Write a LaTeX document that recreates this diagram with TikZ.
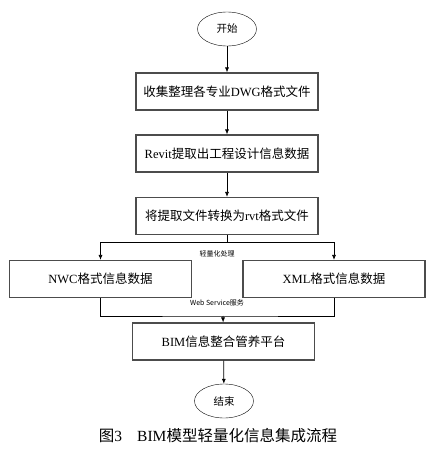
\documentclass[tikz,border=0pt]{standalone}
\usepackage{fontspec}
\setmainfont{Liberation Serif}
\newfontfamily\zh{Noto Sans CJK SC}
\usepackage{tikz}
\usetikzlibrary{arrows.meta,shapes.geometric}

\begin{document}
\begin{tikzpicture}[x=1pt, y=-1pt,
    stepbox/.style={draw=black!70, line width=1.1pt, minimum width=182pt, minimum height=37pt, inner sep=0pt, font=\fontsize{12.5}{14}\selectfont},
    termnode/.style={draw, ellipse, minimum width=59pt, minimum height=34pt, inner sep=0pt, font=\zh\fontsize{10.5}{12}\selectfont},
    note/.style={inner sep=0pt, font=\zh\fontsize{7}{8}\selectfont},
    flow/.style={-{Latex[length=5pt,width=4pt]}, line width=0.7pt}]
  \useasboundingbox (0,0) rectangle (437,452);
  % start and end
  \node[termnode] (start) at (227,29) {开始};
  \node[termnode] (stop) at (224,401) {结束};
  % main steps
  \node[stepbox] (collect) at (227,91.5) {{\zh 收集整理各专业}DWG{\zh 格式文件}};
  \node[stepbox] (revit) at (227,153.5) {Revit{\zh 提取出工程设计信息数据}};
  \node[stepbox] (convert) at (227,216) {{\zh 将提取文件转换为}rvt{\zh 格式文件}};
  \node[stepbox] (nwc) at (100.5,279) {NWC{\zh 格式信息数据}};
  \node[stepbox] (xml) at (334,279) {XML{\zh 格式信息数据}};
  \node[stepbox] (platform) at (223.5,341.5) {BIM{\zh 信息整合管养平台}};
  % labels
  \node[note] (light) at (217,254) {轻量化处理};
  \node[note] (ws) at (217,303) {Web Service服务};
  \coordinate (split) at (227,242);
  \coordinate (join) at (223,316);
  % connectors
  \draw[flow] (start) -- (collect);
  \draw[flow] (collect) -- (revit);
  \draw[flow] (revit) -- (convert);
  \draw[line width=0.7pt] (convert) -- (split);
  \draw[flow] (split) -| (nwc);
  \draw[flow] (split) -| (xml);
  \draw[line width=0.7pt] (nwc) |- (join) -| (xml);
  \draw[flow] (join) -- (platform);
  \draw[flow] (platform) -- (stop);
  % caption
  \node[inner sep=0pt, font=\fontsize{15.5}{17}\selectfont] (caption) at (218,436) {{\zh 图}3\hspace{15pt}BIM{\zh 模型轻量化信息集成流程}};
\end{tikzpicture}
\end{document}
